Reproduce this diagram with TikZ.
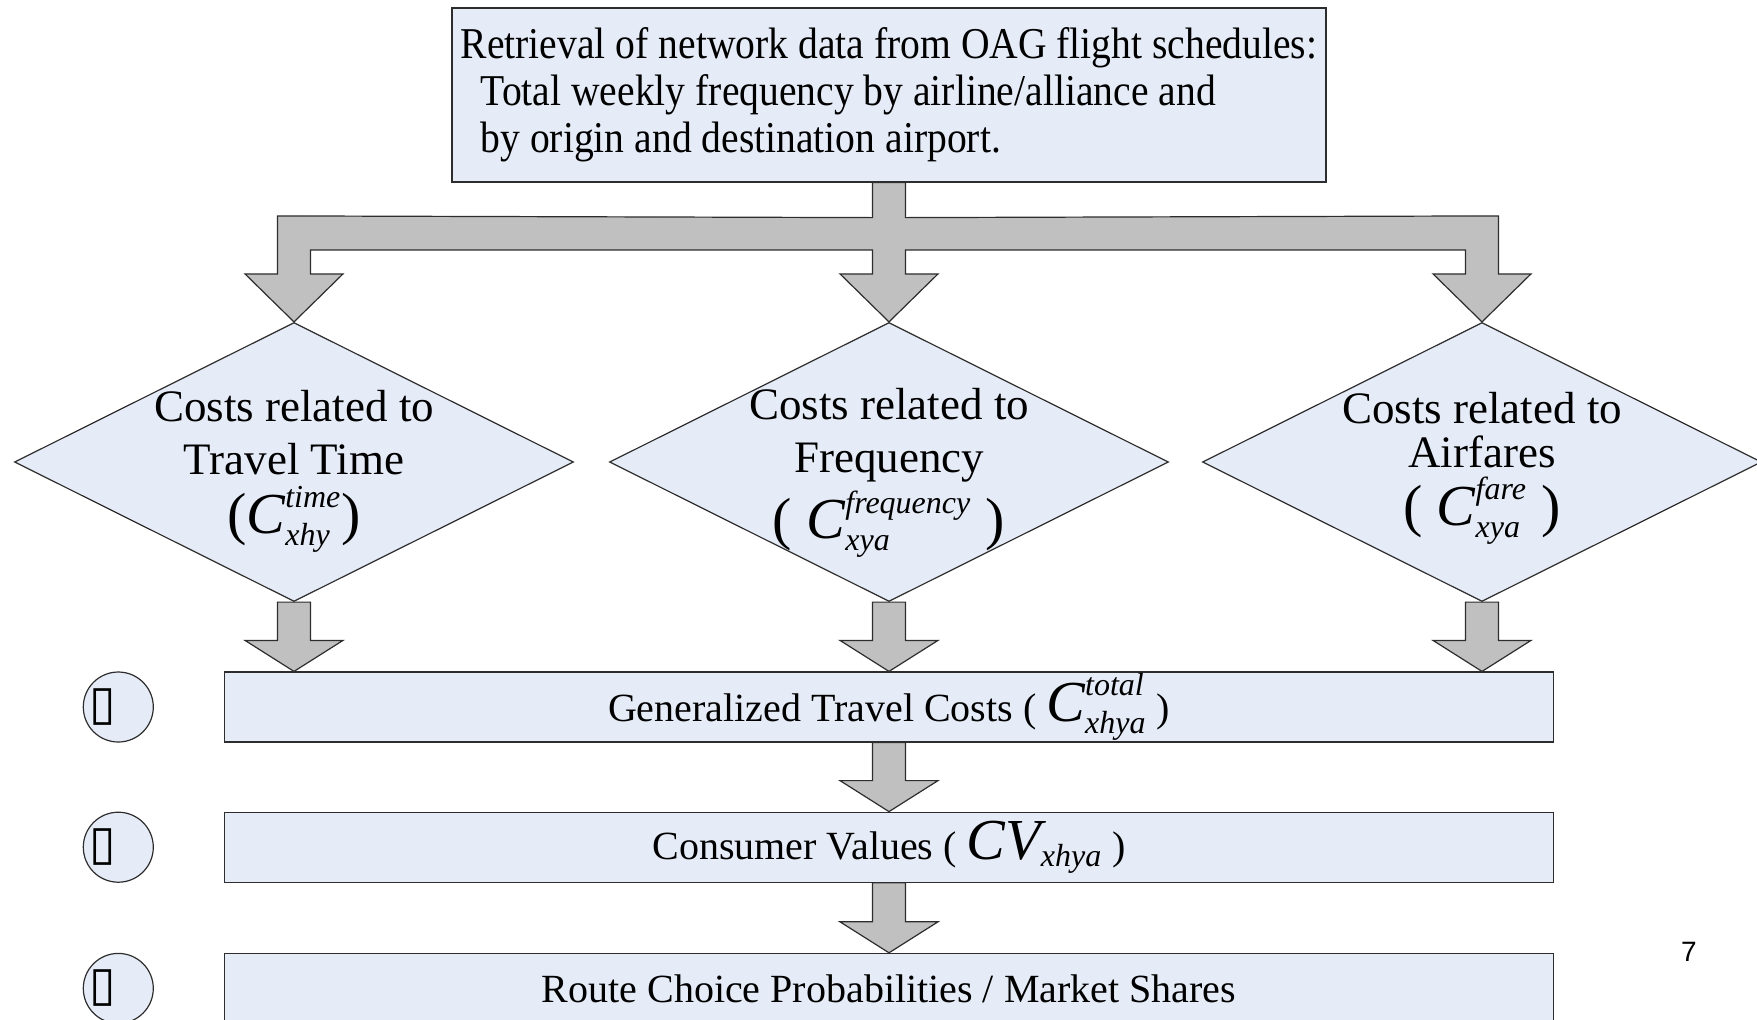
\documentclass[tikz,border=0pt]{standalone}
\usepackage{fontspec}
\usepackage{amsmath}
\setmainfont{Liberation Serif}
\newfontfamily\oagfont[FakeStretch=0.9]{Liberation Serif}
\newfontfamily\symfont{DejaVu Sans}
\newfontfamily\numfont{Liberation Sans}
\usetikzlibrary{calc,positioning,shapes.geometric}

\definecolor{boxfill}{RGB}{230,236,247}
\definecolor{arrowfill}{RGB}{192,192,192}
\definecolor{edgeline}{RGB}{45,45,45}

\DeclareMathSizes{29}{29}{16}{12}
\newcommand\bigf{\fontsize{29pt}{29pt}\selectfont}
\newcommand\cterm[3]{$\textit{#1}^{\textit{#2}}_{\textit{#3}}$}
% block arrow from the middle of its top edge to its tip
\newcommand\fatarrow[2]{%
  \draw[fat] ($(#1)+(-16.5,0)$) |- ($(#2)+(-49,-31)$) -- (#2)
    -- ($(#2)+(49,-31)$) -| ($(#1)+(16.5,0)$) -- cycle;}

\begin{document}
\begin{tikzpicture}[
    x=0.5pt, y=-0.5pt,
    node distance=34.5pt,
    topbox/.style={rectangle, draw=edgeline, fill=boxfill, line width=0.6pt, align=left, minimum width=437pt, minimum height=87pt, inner sep=0pt, font=\oagfont\fontsize{22pt}{23.5pt}\selectfont},
    flowbox/.style={rectangle, draw=edgeline, fill=boxfill, line width=0.6pt, minimum width=664.5pt, minimum height=35pt, inner sep=0pt, font=\fontsize{20pt}{24pt}\selectfont},
    costdia/.style={diamond, draw=edgeline, fill=boxfill, line width=0.6pt, inner sep=0pt, minimum width=279.5pt, minimum height=139.5pt},
    dialabel/.style={align=center, inner sep=0pt, yshift=-4.5pt, font=\fontsize{22.5pt}{26.5pt}\selectfont},
    numcircle/.style={circle, draw=edgeline, fill=boxfill, line width=0.6pt, minimum size=35pt, inner sep=0pt, font=\symfont\fontsize{24pt}{24pt}\selectfont},
    fat/.style={fill=arrowfill, draw=edgeline, line width=0.6pt, line join=miter}
]
\useasboundingbox (0,0) rectangle (1757,1019);

\node[topbox] (oag) at (889,95) {Retrieval of network data from OAG flight schedules:\\
  \hspace*{10pt}Total weekly frequency by airline/alliance and\\
  \hspace*{10pt}by origin and destination airport.};

\node[costdia, label={[dialabel]center:{Costs related to\\Travel Time\\[3pt]{\bigf(\cterm{C}{time}{xhy})}}}] (dtime) at (294,462) {};
\node[costdia, label={[dialabel, yshift=-1pt]center:{Costs related to\\Frequency\\[3pt]{\bigf( \cterm{C}{frequency}{xya} )}}}] (dfreq) at (889,462) {};
\node[costdia, label={[dialabel, yshift=1.5pt, font=\fontsize{22.5pt}{22pt}\selectfont]center:{Costs related to\\Airfares\\[4pt]{\bigf( \cterm{C}{fare}{xya} )}}}] (dfare) at (1482,462) {};

\node[flowbox] (gen) at (889,707) {Generalized Travel Costs ( {\bigf\cterm{C}{total}{xhya}} )};
\node[flowbox, below=of gen] (cv) {Consumer Values ( {\bigf$\textit{CV}_{\textit{xhya}}$} )};
\node[flowbox, below=35pt of cv] (route) {Route Choice Probabilities / Market Shares};

\node[numcircle, left=35pt of gen] (n1) {▯\kern15.5pt};
\node[numcircle, left=35pt of cv] (n2) {▯\kern15.5pt};
\node[numcircle, left=35pt of route] (n3) {▯\kern15.5pt};

\node[font=\numfont\fontsize{14pt}{16pt}\selectfont] (pagenum) at (1689,952) {7};

% splitter from the data box to the three cost diamonds
\draw[fat] ($(oag.south)+(-16.5,0)$) -- ($(oag.south)+(-16.5,35)$)
  -- ($(dtime.north)+(-16.5,-106)$) -- ($(dtime.north)+(-16.5,-48)$)
  -- ($(dtime.north)+(-49,-48)$) -- (dtime.north) -- ($(dtime.north)+(49,-48)$)
  -- ($(dtime.north)+(16.5,-48)$) -- ($(dtime.north)+(16.5,-72)$)
  -- ($(dfreq.north)+(-16.5,-72)$) -- ($(dfreq.north)+(-16.5,-48)$)
  -- ($(dfreq.north)+(-49,-48)$) -- (dfreq.north) -- ($(dfreq.north)+(49,-48)$)
  -- ($(dfreq.north)+(16.5,-48)$) -- ($(dfreq.north)+(16.5,-72)$)
  -- ($(dfare.north)+(-16.5,-72)$) -- ($(dfare.north)+(-16.5,-48)$)
  -- ($(dfare.north)+(-49,-48)$) -- (dfare.north) -- ($(dfare.north)+(49,-48)$)
  -- ($(dfare.north)+(16.5,-48)$) -- ($(dfare.north)+(16.5,-106)$)
  -- ($(oag.south)+(16.5,35)$) -- ($(oag.south)+(16.5,0)$) -- cycle;

\fatarrow{dtime.south}{dtime.south |- gen.north}
\fatarrow{dfreq.south}{gen.north}
\fatarrow{dfare.south}{dfare.south |- gen.north}
\fatarrow{gen.south}{cv.north}
\fatarrow{cv.south}{route.north}
\end{tikzpicture}
\end{document}
